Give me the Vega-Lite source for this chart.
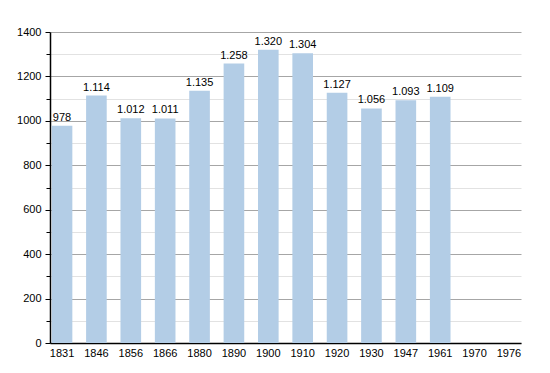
{
  "$schema": "https://vega.github.io/schema/vega-lite/v6.json",
  "autosize": "none",
  "width": 471,
  "height": 311,
  "padding": {"left": 50, "top": 32, "right": 29, "bottom": 30},
  "background": "white",
  "config": {"view": {"stroke": null}, "font": "Liberation Sans"},
  "data": {"values": [
    {"year": "1831", "pop": 978, "label": "978"},
    {"year": "1846", "pop": 1114, "label": "1.114"},
    {"year": "1856", "pop": 1012, "label": "1.012"},
    {"year": "1866", "pop": 1011, "label": "1.011"},
    {"year": "1880", "pop": 1135, "label": "1.135"},
    {"year": "1890", "pop": 1258, "label": "1.258"},
    {"year": "1900", "pop": 1320, "label": "1.320"},
    {"year": "1910", "pop": 1304, "label": "1.304"},
    {"year": "1920", "pop": 1127, "label": "1.127"},
    {"year": "1930", "pop": 1056, "label": "1.056"},
    {"year": "1947", "pop": 1093, "label": "1.093"},
    {"year": "1961", "pop": 1109, "label": "1.109"}
  ]},
  "encoding": {
    "x": {
      "field": "year", "type": "nominal",
      "scale": {"domain": ["1831","1846","1856","1866","1880","1890","1900","1910","1920","1930","1947","1961","1970","1976"], "paddingInner": 0.4, "paddingOuter": 0.05},
      "axis": {"title": null, "labelAngle": 0, "ticks": false, "domainColor": "#000000", "domainWidth": 1.5, "labelColor": "#000000", "labelFontSize": 11, "labelPadding": 4}
    }
  },
  "layer": [
    {
      "mark": {"type": "rule", "opacity": 0},
      "encoding": {
        "y": {
          "field": "pop", "type": "quantitative",
          "axis": {"title": null, "orient": "left", "grid": true, "values": [100,300,500,700,900,1100,1300], "labels": false, "domain": false, "gridColor": "#e2e2e2", "gridWidth": 1, "tickColor": "#000000", "tickSize": 4, "zindex": 0}
        }
      }
    },
    {
      "mark": {"type": "bar", "color": "#b3cde6"},
      "encoding": {
        "y": {
          "field": "pop", "type": "quantitative",
          "scale": {"domain": [0, 1400], "nice": false},
          "axis": {"title": null, "orient": "left", "grid": true, "format": "d", "values": [0,200,400,600,800,1000,1200,1400], "gridColor": "#a6a6a6", "gridWidth": 1, "domainColor": "#000000", "domainWidth": 1.5, "tickColor": "#000000", "tickSize": 5, "labelColor": "#000000", "labelFontSize": 11, "labelPadding": 4, "zindex": 0}
        }
      }
    },
    {
      "mark": {"type": "text", "baseline": "bottom", "dy": -3, "fontSize": 11, "color": "#000000"},
      "encoding": {
        "y": {"field": "pop", "type": "quantitative", "axis": null},
        "text": {"field": "label"}
      }
    }
  ],
  "resolve": {"axis": {"y": "independent"}}
}
